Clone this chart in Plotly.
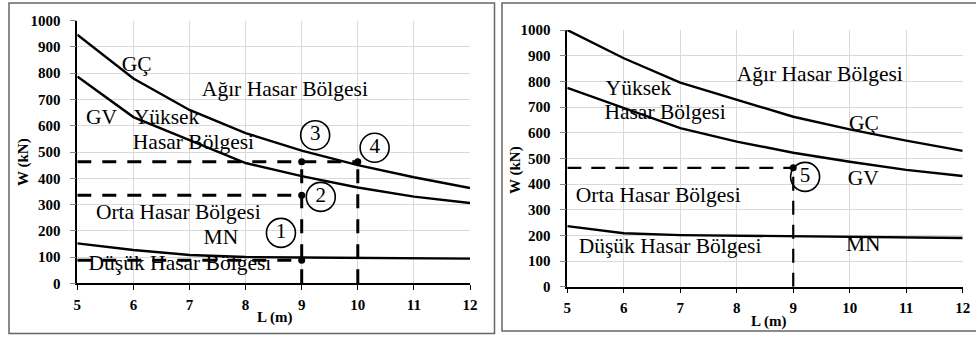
import plotly.graph_objects as go

# ---------------- data ----------------
L = [5, 6, 7, 8, 9, 10, 11, 12]

left_gc = [947, 780, 660, 572, 505, 450, 404, 363]
left_gv = [788, 633, 545, 458, 408, 365, 330, 306]
left_mn = [152, 127, 108, 100, 98, 96, 95, 94]

right_gc = [1000, 890, 795, 727, 662, 613, 569, 529]
right_gv = [775, 695, 618, 565, 522, 487, 455, 431]
right_mn = [236, 208, 201, 199, 197, 195, 193, 190]

# dashed guide lines (pairs of points)
left_guides = [
    ([5, 10], [463, 463]),
    ([5, 9], [335, 335]),
    ([5, 9], [88, 88]),
    ([9, 9], [0, 463]),
    ([10, 10], [0, 463]),
]
left_dots_x = [9, 9, 9, 10]
left_dots_y = [463, 335, 88, 463]

right_guides = [
    ([5, 9], [463, 463]),
    ([9, 9], [0, 463]),
]
right_dots_x = [9]
right_dots_y = [463]

# circled numbers
left_circ_x = [8.63, 9.34, 9.24, 10.3]
left_circ_y = [192, 329, 564, 516]
left_circ_t = ["1", "2", "3", "4"]
right_circ_x = [9.21]
right_circ_y = [428]
right_circ_t = ["5"]

# region / curve labels
left_lab_t = ["GÇ", "Ağır Hasar Bölgesi", "GV", "Yüksek", "Hasar Bölgesi",
              "Orta Hasar Bölgesi", "MN", "Düşük Hasar Bölgesi"]
left_lab_x = [6.06, 8.70, 5.43, 6.59, 7.07, 6.80, 7.56, 6.83]
left_lab_y = [830, 735, 627, 627, 530, 266, 171, 70]

right_lab_t = ["Ağır Hasar Bölgesi", "Yüksek", "Hasar Bölgesi", "GÇ", "GV",
               "Orta Hasar Bölgesi", "Düşük Hasar Bölgesi", "MN"]
right_lab_x = [9.47, 6.26, 6.73, 10.25, 10.24, 6.61, 6.82, 10.24]
right_lab_y = [821, 769, 675, 630, 416, 351, 153, 159]

x_ticks = [5, 6, 7, 8, 9, 10, 11, 12]
y_ticks = list(range(0, 1001, 100))
x_title = "L (m)"
y_title = "W (kN)"

SERIF = "Liberation Serif"

fig = go.Figure()


def add_panel(xa, ya, gc, gv, mn, guides, dx, dy, cx, cy, ct, lt, lx, ly, dash, dw):
    for ys in (gc, gv, mn):
        fig.add_trace(go.Scatter(x=L, y=ys, mode="lines", xaxis=xa, yaxis=ya,
                                 line=dict(color="black", width=2.4), showlegend=False,
                                 hoverinfo="skip"))
    for gx, gy in guides:
        fig.add_trace(go.Scatter(x=gx, y=gy, mode="lines", xaxis=xa, yaxis=ya,
                                 line=dict(color="black", width=dw, dash=dash),
                                 showlegend=False, hoverinfo="skip"))
    fig.add_trace(go.Scatter(x=dx, y=dy, mode="markers", xaxis=xa, yaxis=ya,
                             marker=dict(color="black", size=7), showlegend=False,
                             hoverinfo="skip"))
    fig.add_trace(go.Scatter(x=cx, y=cy, mode="markers+text", text=ct, xaxis=xa, yaxis=ya,
                             textposition="middle center",
                             textfont=dict(family=SERIF, size=21, color="black"),
                             marker=dict(symbol="circle", size=29, color="rgba(255,255,255,0)",
                                         line=dict(color="black", width=1.6)),
                             showlegend=False, hoverinfo="skip"))
    fig.add_trace(go.Scatter(x=lx, y=ly, mode="text", text=lt, xaxis=xa, yaxis=ya,
                             textposition="middle center",
                             textfont=dict(family=SERIF, size=21.5, color="black"),
                             showlegend=False, hoverinfo="skip"))


add_panel("x", "y", left_gc, left_gv, left_mn, left_guides, left_dots_x, left_dots_y,
          left_circ_x, left_circ_y, left_circ_t, left_lab_t, left_lab_x, left_lab_y,
          "14px,11px", 3)
add_panel("x2", "y2", right_gc, right_gv, right_mn, right_guides, right_dots_x, right_dots_y,
          right_circ_x, right_circ_y, right_circ_t, right_lab_t, right_lab_x, right_lab_y,
          "14px,10px", 2.2)

tickfont = dict(family=SERIF, size=15, color="black")

xcommon = dict(range=[5, 12], tickvals=x_ticks, ticktext=[f"<b>{v}</b>" for v in x_ticks],
               showgrid=True, gridcolor="#d9d9d9",
               gridwidth=1, showline=True, linecolor="black", linewidth=1.5,
               ticks="outside", ticklen=5, tickcolor="black", zeroline=False,
               ticklabelstandoff=2, automargin=False, tickfont=tickfont)
ycommon = dict(range=[0, 1000], tickvals=y_ticks, ticktext=[f"<b>{v}</b>" for v in y_ticks],
               showgrid=True, gridcolor="#d9d9d9",
               gridwidth=1, showline=True, linecolor="black", linewidth=1.5,
               ticks="outside", ticklen=6, tickcolor="#888", zeroline=False,
               ticklabelstandoff=6, automargin=False, tickfont=tickfont)

W, H = 976, 338


def title_ann(text, px, py, angle):
    return dict(text=f"<b>{text}</b>", xref="paper", yref="paper", x=px / W, y=1 - py / H,
                xanchor="center", yanchor="middle", showarrow=False, textangle=angle,
                font=dict(family=SERIF, size=15, color="black"))


fig.update_layout(
    template="none",
    width=W, height=H, margin=dict(l=0, r=0, t=0, b=0, pad=0), autosize=False,
    paper_bgcolor="white", plot_bgcolor="white",
    xaxis=dict(domain=[77.3 / W, 470 / W], anchor="y", **xcommon),
    yaxis=dict(domain=[1 - 283.3 / H, 1 - 20.7 / H], anchor="x", **ycommon),
    xaxis2=dict(domain=[567.3 / W, 962.7 / W], anchor="y2", **xcommon),
    yaxis2=dict(domain=[1 - 286.7 / H, 1 - 30 / H], anchor="x2", **ycommon),
    annotations=[
        title_ann(x_title, 274, 317, 0),
        title_ann(y_title, 23, 162, -90),
        title_ann(x_title, 768, 321, 0),
        title_ann(y_title, 515, 170, -90),
    ],
    shapes=[
        dict(type="rect", xref="paper", yref="paper", x0=9 / W, x1=494.5 / W,
             y0=1 - 333.5 / H, y1=1 - 3 / H, line=dict(color="#666", width=1.5)),
        dict(type="rect", xref="paper", yref="paper", x0=502 / W, x1=980 / W,
             y0=1 - 331 / H, y1=1 - 3 / H, line=dict(color="#666", width=1.5)),
    ],
)

fig.write_html("out.html",
               config={"displayModeBar": False},
               post_script="document.body.style.margin='0';document.body.style.padding='0';"
                           "document.body.style.overflow='hidden';")
